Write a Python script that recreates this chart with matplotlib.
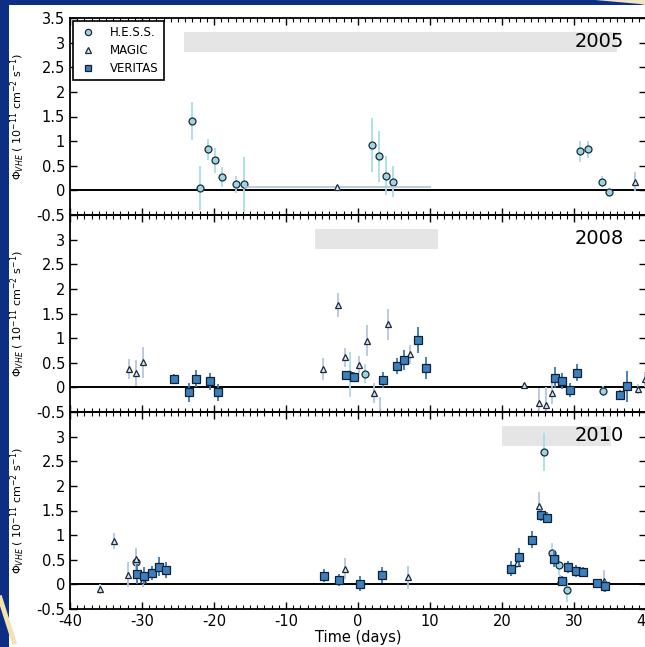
import matplotlib
matplotlib.use("Agg")
import matplotlib.pyplot as plt
from matplotlib.lines import Line2D
from matplotlib.patches import Rectangle, Polygon
from matplotlib.ticker import MultipleLocator

# ---------------- data ----------------
years = ["2005", "2008", "2010"]
bands = [(-24.2, 36.0), (-6.0, 11.05), (19.95, 35.1)]
band_y = (2.81, 3.22)

# 2005
hess05_t = [-23.0, -21.9, -20.9, -19.9, -18.9, -16.9, -15.9, 1.9, 2.9, 3.9, 4.9, 30.9, 31.9, 33.85, 34.9]
hess05_f = [1.41, 0.05, 0.83, 0.61, 0.27, 0.12, 0.12, 0.92, 0.69, 0.30, 0.18, 0.79, 0.83, 0.18, -0.04]
hess05_e = [0.39, 0.45, 0.22, 0.25, 0.21, 0.18, 0.55, 0.55, 0.52, 0.40, 0.32, 0.22, 0.18, 0.12, 0.06]
magic05_t = [-2.9, 38.5]
magic05_f = [0.07, 0.18]
magic05_e = [0.03, 0.20]
magic05_xe = [13.0, 0.0]
ver05_t, ver05_f, ver05_e = [], [], []

# 2008
hess08_t = [-1.1, 0.95, 34.0]
hess08_f = [0.26, 0.28, -0.07]
hess08_e = [0.45, 0.20, 0.10]
magic08_t = [-31.8, -30.9, -29.9, -4.9, -2.8, -1.8, 0.17, 1.2, 2.2, 3.05, 4.2, 7.2,
             23.1, 25.1, 26.1, 27.0, 38.9, 39.9]
magic08_f = [0.37, 0.29, 0.51, 0.37, 1.67, 0.61, 0.46, 0.95, -0.11, -0.65, 1.28, 0.67,
             0.05, -0.32, -0.36, -0.11, -0.03, 0.16]
magic08_e = [0.20, 0.27, 0.31, 0.23, 0.25, 0.19, 0.17, 0.31, 0.20, 0.45, 0.31, 0.20,
             0.04, 0.30, 0.37, 0.22, 0.10, 0.15]
ver08_t = [-25.5, -23.5, -22.5, -20.5, -19.5, -1.6, -0.57, 3.5, 5.4, 6.4, 8.4, 9.4,
           27.4, 28.4, 29.4, 30.4, 36.4, 37.3]
ver08_f = [0.18, -0.10, 0.18, 0.12, -0.10, 0.26, 0.22, 0.15, 0.44, 0.56, 0.96, 0.39,
           0.20, 0.13, -0.06, 0.30, -0.15, 0.02]
ver08_e = [0.10, 0.19, 0.17, 0.17, 0.17, 0.08, 0.10, 0.17, 0.16, 0.20, 0.27, 0.23,
           0.21, 0.17, 0.14, 0.17, 0.10, 0.31]

# 2010
hess10_t = [-30.9, 25.9, 26.95, 27.9, 29.05]
hess10_f = [0.46, 2.69, 0.63, 0.40, -0.12]
hess10_e = [0.28, 0.39, 0.22, 0.20, 0.23]
magic10_t = [-35.8, -33.9, -31.9, -30.9, -29.9, -1.8, 7.0, 22.1, 25.1, 28.0, 34.1]
magic10_f = [-0.09, 0.88, 0.20, 0.51, 0.09, 0.32, 0.14, 0.44, 1.60, 0.09, 0.07]
magic10_e = [0.10, 0.16, 0.25, 0.20, 0.15, 0.22, 0.24, 0.10, 0.27, 0.10, 0.22]
ver10_t = [-30.65, -29.7, -28.6, -27.6, -26.6, -4.7, -2.6, 0.3, 3.3, 21.25, 22.3, 24.2,
           25.35, 26.3, 27.2, 28.3, 29.2, 30.25, 31.3, 33.2, 34.3]
ver10_f = [0.21, 0.18, 0.23, 0.36, 0.29, 0.18, 0.09, 0.01, 0.19, 0.32, 0.55, 0.91,
           1.41, 1.35, 0.52, 0.07, 0.35, 0.27, 0.26, 0.03, -0.03]
ver10_e = [0.20, 0.17, 0.15, 0.20, 0.17, 0.14, 0.12, 0.15, 0.17, 0.15, 0.18, 0.18,
           0.12, 0.11, 0.17, 0.10, 0.12, 0.12, 0.10, 0.08, 0.12]

hess = [(hess05_t, hess05_f, hess05_e), (hess08_t, hess08_f, hess08_e), (hess10_t, hess10_f, hess10_e)]
magic = [(magic05_t, magic05_f, magic05_e), (magic08_t, magic08_f, magic08_e), (magic10_t, magic10_f, magic10_e)]
veritas = [(ver05_t, ver05_f, ver05_e), (ver08_t, ver08_f, ver08_e), (ver10_t, ver10_f, ver10_e)]

# ---------------- style ----------------
HESS_FACE = "#9fd3df"
HESS_ERR = "#a8dde8"
MAGIC_FACE = "#dfe7f0"
MAGIC_ERR = "#b3c6df"
VER_FACE = "#3d7fbd"
VER_ERR = "#3a78b6"

plt.rcParams["font.family"] = ["DejaVu Sans"]
plt.rcParams["axes.unicode_minus"] = False

fig = plt.figure(figsize=(6.45, 6.47), dpi=100)
fig.patch.set_facecolor("#0c2e84")

# white slide area + decorations
fig.patches.append(Rectangle((9 / 645, 0), 1, 1 - 5 / 647, transform=fig.transFigure,
                             facecolor="white", edgecolor="none", zorder=-10))
fig.patches.append(Polygon([(595 / 645, 1), (1, 1), (1, 1 - 5 / 647), (640 / 645, 1 - 4 / 647)],
                           closed=True, transform=fig.transFigure,
                           facecolor="#efe6c8", edgecolor="none", zorder=-9))
fig.lines.append(Line2D([0 / 645, 14 / 645], [1 - 598 / 647, 1 - 642 / 647],
                        transform=fig.transFigure, color="#f3e2b0", lw=3.5, zorder=-5))

left = 70 / 645
width = 576 / 645
bottom = (647 - 609) / 647
ph = (609 - 18) / 3 / 647

axes = []
for i in range(3):
    ax = fig.add_axes([left, bottom + (2 - i) * ph, width, ph])
    axes.append(ax)

ylabel = r"$\Phi_{VHE}$ ( $10^{-11}$ cm$^{-2}$ s$^{-1}$)"

for i, ax in enumerate(axes):
    ax.set_facecolor("none")
    ax.set_xlim(-40, 40)
    ax.set_ylim(-0.5, 3.5)
    ax.add_patch(Rectangle((bands[i][0], band_y[0]), bands[i][1] - bands[i][0],
                           band_y[1] - band_y[0], facecolor="#e5e5e5", edgecolor="none", zorder=0))
    ax.axhline(0, color="black", lw=1.4, zorder=1)
    ax.text(36.9, 3.02, years[i], ha="right", va="center", fontsize=14, zorder=2)

    t, f, e = hess[i]
    if t:
        ax.errorbar(t, f, yerr=e, fmt="o", ms=5, mfc=HESS_FACE, mec="#1a2a3a", mew=0.9,
                    ecolor=HESS_ERR, elinewidth=1.3, capsize=0, zorder=3)
    t, f, e = magic[i]
    if t:
        xe = magic05_xe if i == 0 else None
        ax.errorbar(t, f, yerr=e, xerr=xe, fmt="^", ms=5, mfc=MAGIC_FACE, mec="#1a2a3a", mew=0.9,
                    ecolor=MAGIC_ERR, elinewidth=1.3, capsize=0, zorder=4)
    t, f, e = veritas[i]
    if t:
        ax.errorbar(t, f, yerr=e, fmt="s", ms=5.5, mfc=VER_FACE, mec="#10202e", mew=0.9,
                    ecolor=VER_ERR, elinewidth=1.3, capsize=0, zorder=5)

    ax.xaxis.set_major_locator(MultipleLocator(10))
    ax.xaxis.set_minor_locator(MultipleLocator(1))
    ax.yaxis.set_major_locator(MultipleLocator(0.5))
    ax.tick_params(which="both", direction="in", top=True, right=True, labelsize=10.5)
    ax.tick_params(which="major", length=5, width=1)
    ax.tick_params(which="minor", length=3, width=0.8)
    for s in ax.spines.values():
        s.set_linewidth(1.3)
    if i == 0:
        ticks = [-0.5, 0, 0.5, 1, 1.5, 2, 2.5, 3, 3.5]
    else:
        ticks = [-0.5, 0, 0.5, 1, 1.5, 2, 2.5, 3]
    ax.set_yticks(ticks)
    ax.set_yticklabels(["%g" % v for v in ticks])
    ax.set_ylim(-0.5, 3.5)
    ax.set_ylabel(ylabel, fontsize=8)
    ax.yaxis.set_label_coords(-0.075, 0.5)
    if i < 2:
        ax.tick_params(labelbottom=False)

axes[2].set_xticks([-40, -30, -20, -10, 0, 10, 20, 30, 40])
axes[2].set_xticklabels(["-40", "-30", "-20", "-10", "0", "10", "20", "30", "40"])
axes[2].set_xlabel("Time (days)", fontsize=10.5, labelpad=1)

handles = [
    Line2D([], [], ls="none", marker="o", ms=4.5, mfc=HESS_FACE, mec="#1a2a3a", mew=0.9),
    Line2D([], [], ls="none", marker="^", ms=4.5, mfc=MAGIC_FACE, mec="#1a2a3a", mew=0.9),
    Line2D([], [], ls="none", marker="s", ms=4.5, mfc=VER_FACE, mec="#10202e", mew=0.9),
]
leg = axes[0].legend(handles, ["H.E.S.S.", "MAGIC", "VERITAS"], loc="upper left",
                     bbox_to_anchor=(0.005, 0.985), borderaxespad=0.0, fontsize=8.5,
                     fancybox=False, framealpha=1, edgecolor="black", borderpad=0.45,
                     labelspacing=0.4, handlelength=1.6, handletextpad=1.1, numpoints=1)
leg.get_frame().set_linewidth(1.2)

fig.savefig("out.png", dpi=100, facecolor=fig.get_facecolor())
